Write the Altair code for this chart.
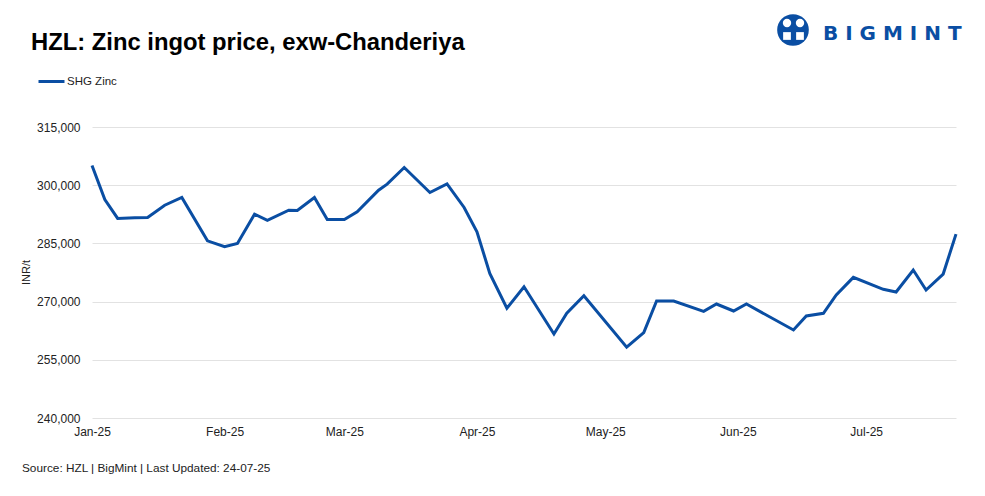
import altair as alt
import pandas as pd

# ---- data ----
dates = [
    "2025-01-01", "2025-01-04", "2025-01-07", "2025-01-11", "2025-01-14", "2025-01-18",
    "2025-01-22", "2025-01-28", "2025-02-01", "2025-02-04", "2025-02-08", "2025-02-11",
    "2025-02-16", "2025-02-18", "2025-02-22", "2025-02-25", "2025-03-01", "2025-03-04",
    "2025-03-09", "2025-03-11", "2025-03-15", "2025-03-21", "2025-03-25", "2025-03-29",
    "2025-04-01", "2025-04-04", "2025-04-08", "2025-04-12", "2025-04-19", "2025-04-22",
    "2025-04-26", "2025-05-06", "2025-05-10", "2025-05-13", "2025-05-17", "2025-05-24",
    "2025-05-27", "2025-05-31", "2025-06-03", "2025-06-14", "2025-06-17", "2025-06-21",
    "2025-06-24", "2025-06-28", "2025-07-05", "2025-07-08", "2025-07-12", "2025-07-15",
    "2025-07-19", "2025-07-22",
]
prices = [
    305100, 296300, 291430, 291590, 291690, 294850,
    296840, 285670, 284130, 285000, 292540, 290920,
    293570, 293490, 296840, 291180, 291180, 293130,
    298710, 300260, 304550, 298120, 300330, 294260,
    287980, 277280, 268280, 273830, 261660, 266990,
    271520, 258240, 262000, 270150, 270150, 267500,
    269380, 267580, 269380, 262690, 266290, 266990,
    271700, 276250, 273160, 272470, 278130, 272980,
    277100, 287390,
]
series_name = "SHG Zinc"
y_ticks = [240000, 255000, 270000, 285000, 300000, 315000]
month_ticks = [1, 2, 3, 4, 5, 6, 7]

title_text = "HZL: Zinc ingot price, exw-Chanderiya"
footer_text = "Source: HZL | BigMint | Last Updated: 24-07-25"
y_title = "INR/t"

LINE_COLOR = "#0a4ea3"
FONT = "Liberation Sans"

df = pd.DataFrame({"date": dates, "price": prices, "series": series_name})
one = pd.DataFrame({"k": [0]})

line = alt.Chart(df).mark_line(strokeWidth=3, strokeJoin="miter").encode(
    x=alt.X(
        "date:T",
        scale=alt.Scale(
            type="utc",
            domain=[alt.DateTime(year=2025, month=1, date=1, utc=True),
                    alt.DateTime(year=2025, month=7, date=22, utc=True)],
        ),
        axis=alt.Axis(
            values=[alt.DateTime(year=2025, month=m, date=1, utc=True) for m in month_ticks],
            labelExpr="utcFormat(datum.value, '%b-%y')",
            title=None, grid=False, ticks=False, domain=False,
            labelFlush=False, labelPadding=8, labelFontSize=12,
            labelFont=FONT, labelColor="#222222",
        ),
    ),
    y=alt.Y(
        "price:Q",
        scale=alt.Scale(domain=[240000, 315000], nice=False, zero=False),
        axis=alt.Axis(
            values=y_ticks, format=",.0f", title=y_title,
            titleFont=FONT, titleFontSize=11, titleFontWeight="normal",
            titleColor="#222222", titleX=-61, titleY=145, titleAngle=-90,
            titleAlign="center", titleBaseline="bottom",
            grid=True, gridColor="#e2e2e2", gridWidth=1,
            ticks=False, domain=False, labelPadding=12,
            labelFontSize=12, labelFont=FONT, labelColor="#222222",
        ),
    ),
    color=alt.Color(
        "series:N",
        scale=alt.Scale(domain=[series_name], range=[LINE_COLOR]),
        legend=alt.Legend(
            title=None, orient="none", legendX=-55, legendY=-60,
            symbolType="stroke", symbolSize=676, symbolStrokeWidth=3,
            labelFont=FONT, labelFontSize=11.5, labelColor="#222222",
            labelOffset=1, padding=0,
        ),
    ),
)

title = alt.Chart(one).mark_text(
    text=title_text, font=FONT, fontSize=23.8, fontWeight="bold",
    align="left", baseline="alphabetic", color="#000000",
).encode(x=alt.value(-61), y=alt.value(-77))

footer = alt.Chart(one).mark_text(
    text=footer_text, font=FONT, fontSize=11.8,
    align="left", baseline="alphabetic", color="#222222",
).encode(x=alt.value(-70), y=alt.value(345))

logo_circle = alt.Chart(one).mark_point(
    shape="circle", filled=True, color="#0a4ea3", opacity=1,
).encode(x=alt.value(701), y=alt.value(-97), size=alt.value(1000))

logo_heads = alt.Chart(pd.DataFrame({"hx": [695, 708]})).mark_point(
    shape="circle", filled=True, color="#ffffff", opacity=1,
).encode(x=alt.X("hx:Q", scale=None), y=alt.value(-104), size=alt.value(70))

logo_bodies = alt.Chart(pd.DataFrame({"bx": [695, 708]})).mark_point(
    shape="square", filled=True, color="#ffffff", opacity=1,
).encode(x=alt.X("bx:Q", scale=None), y=alt.value(-91), size=alt.value(60))

logo_text = alt.Chart(one).mark_text(
    text="B I G M I N T", font="DejaVu Sans", fontSize=20, fontWeight="bold",
    align="left", baseline="alphabetic", color="#0a4ea3",
).encode(x=alt.value(731), y=alt.value(-87))

chart = alt.layer(
    line, title, footer, logo_circle, logo_heads, logo_bodies, logo_text
).properties(
    width=864, height=291,
    padding={"left": 84, "top": 119, "right": 21, "bottom": 70},
    autosize=alt.AutoSizeParams(type="none"),
    background="#ffffff",
).configure_view(stroke=None)

chart.save("out.html", embed_options={"renderer": "svg", "actions": False})
